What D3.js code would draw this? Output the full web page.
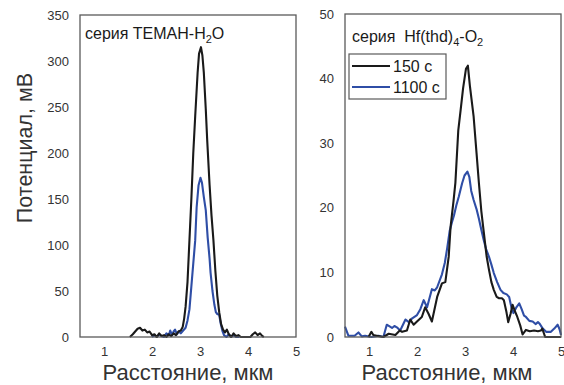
<!DOCTYPE html>
<html>
<head>
<meta charset="utf-8">
<script src="https://cdn.jsdelivr.net/npm/d3@7"></script>
<style>
  html, body { margin: 0; padding: 0; background: #fff; }
  svg { display: block; font-family: "Liberation Sans", Arial, sans-serif; }
</style>
</head>
<body>
<svg id="chart" width="564" height="385"></svg>
<script>
// ---- Data ----
const xTicks = [1, 2, 3, 4, 5];
const leftYTicks = [0, 50, 100, 150, 200, 250, 300, 350];
const rightYTicks = [0, 10, 20, 30, 40, 50];
const seriesNames = ["150 с", "1100 с"];
const seriesColors = ["#1a1a1a", "#2f4ea6"];

// TEMAH-H2O series, 150 s
const temah150 = [
  [1.54, 0], [1.60, 3], [1.65, 6], [1.70, 9], [1.75, 10], [1.80, 7], [1.85, 8], [1.90, 5],
  [1.95, 6], [2.00, 2], [2.05, 3], [2.10, 0], [2.15, 4], [2.20, 1], [2.25, 2], [2.30, 0],
  [2.35, 3], [2.40, 1], [2.45, 4], [2.50, 2], [2.55, 6], [2.60, 7], [2.64, 11], [2.67, 20],
  [2.70, 33], [2.74, 60], [2.78, 105], [2.82, 150], [2.86, 200], [2.90, 240], [2.95, 287],
  [2.98, 308], [3.02, 315], [3.05, 306], [3.08, 287], [3.12, 248], [3.15, 214], [3.20, 165],
  [3.24, 132], [3.28, 105], [3.32, 72], [3.36, 45], [3.40, 27], [3.44, 14], [3.48, 8],
  [3.52, 5], [3.56, 8], [3.60, 3], [3.65, 0], [3.70, 4], [3.75, 1], [3.80, 2], [3.85, 0],
  [4.05, 0], [4.10, 3], [4.15, 5], [4.20, 2], [4.25, 4], [4.30, 1], [4.33, 0]
];
// TEMAH-H2O series, 1100 s
const temah1100 = [
  [2.00, 0], [2.05, 2], [2.10, 0], [2.15, 3], [2.20, 1], [2.25, 0], [2.30, 4], [2.35, 2],
  [2.38, 7], [2.42, 2], [2.45, 6], [2.48, 8], [2.52, 3], [2.56, 6], [2.60, 4], [2.65, 7],
  [2.70, 10], [2.74, 18], [2.78, 30], [2.82, 55], [2.86, 80], [2.90, 105], [2.93, 141],
  [2.97, 165], [3.01, 173], [3.04, 168], [3.08, 152], [3.12, 138], [3.16, 108], [3.20, 85],
  [3.22, 70], [3.26, 50], [3.30, 35], [3.33, 27], [3.36, 25], [3.40, 24], [3.43, 15],
  [3.47, 6], [3.50, 2], [3.55, 0], [3.60, 3], [3.65, 0], [3.70, 2], [3.75, 0], [3.82, 0]
];
// Hf(thd)4-O2 series, 150 s
const hf150 = [
  [0.99, 0], [1.05, 0.8], [1.09, 0.3], [1.16, 0.2], [1.30, 0], [1.41, 0.5], [1.55, 0.3],
  [1.64, 1.0], [1.69, 0.8], [1.79, 1.0], [1.86, 2.7], [1.93, 1.9], [2.00, 2.4], [2.10, 3.1],
  [2.17, 4.6], [2.24, 3.6], [2.31, 2.4], [2.42, 6.2], [2.52, 8.3], [2.59, 8.5], [2.66, 12.4],
  [2.70, 17.1], [2.76, 21], [2.80, 23.9], [2.86, 32], [2.91, 35.2], [2.96, 38.5], [3.02, 41.5],
  [3.06, 42.0], [3.10, 39], [3.18, 34.1], [3.24, 28.5], [3.29, 23.8], [3.34, 19.5], [3.39, 16.3],
  [3.45, 12.5], [3.50, 10.4], [3.55, 8.5], [3.60, 7.3], [3.66, 6.2], [3.71, 6.0], [3.77, 6.0],
  [3.81, 5.7], [3.86, 4.0], [3.90, 2.3], [3.95, 3.6], [3.99, 5.0], [4.04, 4.0], [4.09, 3.1],
  [4.15, 1.8], [4.20, 0.4], [4.27, 1.1], [4.35, 0.9], [4.44, 1.0], [4.52, 0.9], [4.58, 1.0],
  [4.61, 1.3], [4.67, 0], [5.0, 0]
];
// Hf(thd)4-O2 series, 1100 s
const hf1100 = [
  [0.50, 1.6], [0.57, 0.2], [0.70, 0.2], [0.78, 0.7], [0.85, 0.1], [0.92, 0.2], [1.05, 0],
  [1.20, 0.2], [1.30, 0], [1.37, 1.9], [1.48, 1.4], [1.53, 1.7], [1.58, 1.5], [1.65, 1.0],
  [1.76, 2.7], [1.83, 2.3], [1.90, 2.9], [2.00, 3.4], [2.07, 4.3], [2.14, 5.7], [2.21, 4.6],
  [2.31, 7.4], [2.37, 7.2], [2.42, 7.7], [2.52, 9.7], [2.58, 11.5], [2.63, 13.8], [2.68, 16.4],
  [2.73, 17.8], [2.77, 18.8], [2.82, 20.4], [2.87, 21.7], [2.91, 22.9], [2.94, 23.8],
  [2.99, 25.0], [3.05, 25.6], [3.09, 24.8], [3.13, 22.6], [3.18, 21.2], [3.24, 19.8],
  [3.29, 18.3], [3.34, 16.6], [3.39, 15.0], [3.44, 13.6], [3.50, 12.4], [3.55, 11.2],
  [3.60, 9.9], [3.67, 8.5], [3.74, 7.3], [3.80, 6.8], [3.87, 6.6], [3.92, 6.2], [3.97, 4.5],
  [4.01, 3.7], [4.07, 4.6], [4.13, 5.2], [4.18, 4.3], [4.23, 3.3], [4.27, 3.1], [4.34, 2.5],
  [4.41, 2.4], [4.47, 2.0], [4.52, 2.3], [4.55, 2.1], [4.62, 1.3], [4.69, 0.8], [4.79, 0.8],
  [4.86, 1.3], [4.93, 1.9], [4.97, 1.2], [5.00, 0.3]
];

// ---- Layout ----
const svg = d3.select("#chart");
const panels = [
  { x0: 80, x1: 296, y0: 15, y1: 337, yMax: 350, yTicks: leftYTicks,
    series: [temah150, temah1100], labelShift: 0 },
  { x0: 345, x1: 561, y0: 14, y1: 337, yMax: 50, yTicks: rightYTicks,
    series: [hf150, hf1100], labelShift: -6 }
];

panels.forEach(p => {
  const x = d3.scaleLinear().domain([0.5, 5]).range([p.x0, p.x1]);
  const y = d3.scaleLinear().domain([0, p.yMax]).range([p.y1, p.y0]);
  const g = svg.append("g");

  // tick labels (no tick marks)
  const xa = g.append("g").attr("transform", `translate(0,${p.y1})`)
    .call(d3.axisBottom(x).tickValues(xTicks).tickSize(0).tickPadding(10).tickFormat(d3.format("d")));
  const ya = g.append("g").attr("transform", `translate(${p.x0},0)`)
    .call(d3.axisLeft(y).tickValues(p.yTicks).tickSize(0).tickPadding(11).tickFormat(d3.format("d")));
  [xa, ya].forEach(a => {
    a.select(".domain").remove();
    a.selectAll("text").attr("font-size", 13).attr("fill", "#333")
      .attr("font-family", "'Liberation Sans', Arial, sans-serif");
  });

  // curves (1100 s underneath, 150 s on top)
  const line = d3.line().x(d => x(d[0])).y(d => y(d[1]));
  p.series.slice().reverse().forEach((s, i) => {
    const idx = p.series.length - 1 - i;
    g.append("path").datum(s).attr("d", line)
      .attr("fill", "none").attr("stroke", seriesColors[idx])
      .attr("stroke-width", 2.1).attr("stroke-linejoin", "round");
  });

  // frame
  g.append("rect").attr("x", p.x0).attr("y", p.y0)
    .attr("width", p.x1 - p.x0).attr("height", p.y1 - p.y0)
    .attr("fill", "none").attr("stroke", "#5a5a5a").attr("stroke-width", 1.3);

  // x axis title
  g.append("text").attr("x", (p.x0 + p.x1) / 2 + p.labelShift).attr("y", 380)
    .attr("text-anchor", "middle").attr("font-size", 22).attr("fill", "#333")
    .text("Расстояние, мкм");
});

// y axis title
svg.append("text").attr("transform", "translate(32,148) rotate(-90)")
  .attr("text-anchor", "middle").attr("font-size", 21.5).attr("fill", "#333")
  .text("Потенциал, мВ");

// panel annotations
const t1 = svg.append("text").attr("x", 85).attr("y", 39).attr("font-size", 16).attr("fill", "#1a1a1a");
t1.append("tspan").text("серия ТЕМАН-H");
t1.append("tspan").attr("font-size", 11).attr("dy", 4).text("2");
t1.append("tspan").attr("dy", -4).text("O");

const t2 = svg.append("text").attr("x", 352).attr("y", 42).attr("font-size", 16).attr("fill", "#1a1a1a");
t2.append("tspan").text("серия\u00a0\u00a0Hf(thd)");
t2.append("tspan").attr("font-size", 11).attr("dy", 4).text("4");
t2.append("tspan").attr("dy", -4).text("-O");
t2.append("tspan").attr("font-size", 11).attr("dy", 4).text("2");

// legend
const lg = svg.append("g");
lg.append("rect").attr("x", 349).attr("y", 54).attr("width", 97).attr("height", 45)
  .attr("fill", "#fff").attr("stroke", "#5a5a5a").attr("stroke-width", 1.2);
seriesNames.forEach((name, i) => {
  const yy = 66 + i * 21;
  lg.append("line").attr("x1", 352).attr("x2", 390).attr("y1", yy).attr("y2", yy)
    .attr("stroke", seriesColors[i]).attr("stroke-width", 2.1);
  lg.append("text").attr("x", 393).attr("y", yy + 6).attr("font-size", 16).attr("fill", "#1a1a1a")
    .text(name);
});
</script>
</body>
</html>
